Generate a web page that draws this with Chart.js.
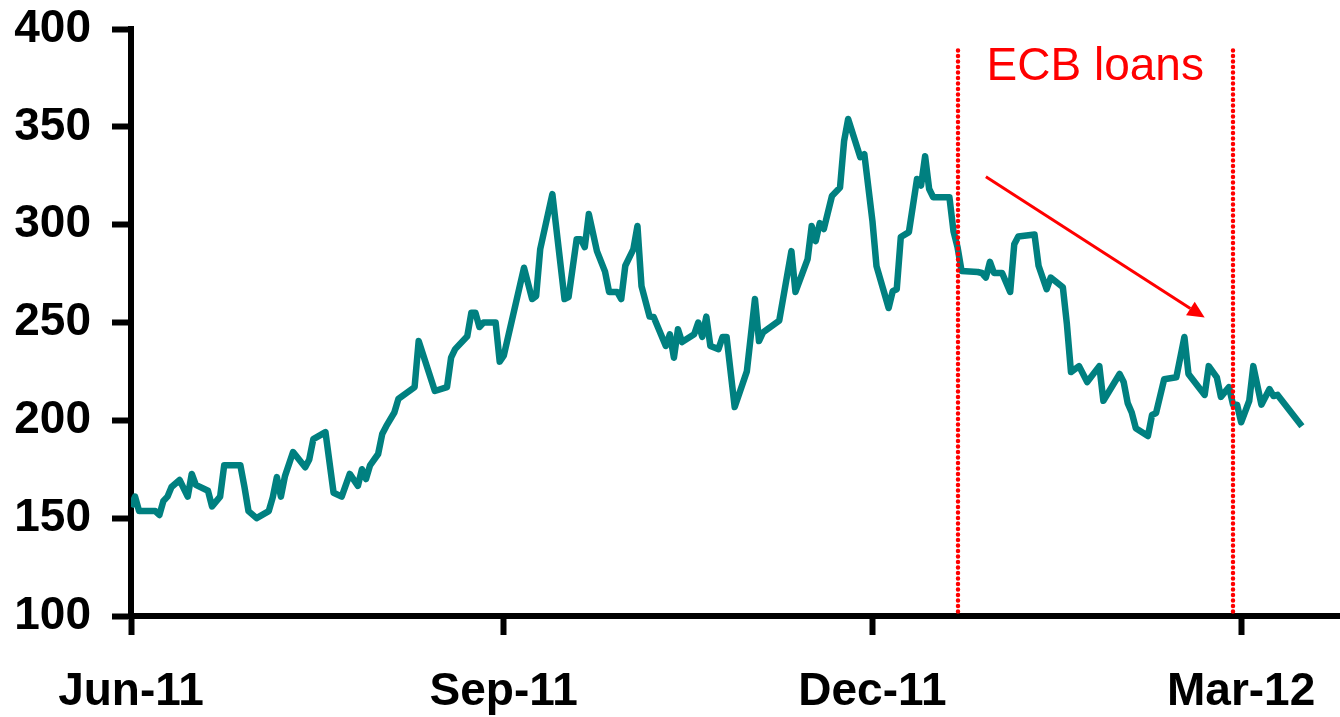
<!DOCTYPE html>
<html>
<head>
<meta charset="utf-8">
<script src="https://cdn.jsdelivr.net/npm/chart.js@4.4.1/dist/chart.umd.min.js"></script>
<style>
  html, body { margin: 0; padding: 0; background: #fff; }
  #wrap { width: 1340px; height: 717px; position: relative; }
</style>
</head>
<body>
<div id="wrap"><canvas id="myChart"></canvas></div>
<script>
const dates = [
  '2011-06-01', '2011-06-02', '2011-06-03', '2011-06-07', '2011-06-08', '2011-06-09', '2011-06-10', '2011-06-11',
  '2011-06-13', '2011-06-15', '2011-06-16', '2011-06-17', '2011-06-20', '2011-06-21', '2011-06-23', '2011-06-24',
  '2011-06-28', '2011-06-29', '2011-06-30', '2011-07-02', '2011-07-05', '2011-07-06', '2011-07-07', '2011-07-08',
  '2011-07-09', '2011-07-11', '2011-07-14', '2011-07-15', '2011-07-16', '2011-07-19', '2011-07-21', '2011-07-23',
  '2011-07-25', '2011-07-27', '2011-07-28', '2011-07-29', '2011-07-30', '2011-08-01', '2011-08-02', '2011-08-03',
  '2011-08-05', '2011-08-06', '2011-08-10', '2011-08-11', '2011-08-15', '2011-08-18', '2011-08-19', '2011-08-20',
  '2011-08-23', '2011-08-24', '2011-08-25', '2011-08-26', '2011-08-27', '2011-08-30', '2011-08-31', '2011-09-01',
  '2011-09-06', '2011-09-08', '2011-09-09', '2011-09-10', '2011-09-13', '2011-09-16', '2011-09-17', '2011-09-19',
  '2011-09-20', '2011-09-21', '2011-09-22', '2011-09-24', '2011-09-26', '2011-09-27', '2011-09-29', '2011-09-30',
  '2011-10-01', '2011-10-03', '2011-10-04', '2011-10-05', '2011-10-07', '2011-10-08', '2011-10-11', '2011-10-12',
  '2011-10-13', '2011-10-14', '2011-10-15', '2011-10-18', '2011-10-19', '2011-10-20', '2011-10-21', '2011-10-22',
  '2011-10-24', '2011-10-25', '2011-10-26', '2011-10-28', '2011-10-31', '2011-11-02', '2011-11-03', '2011-11-04',
  '2011-11-08', '2011-11-11', '2011-11-12', '2011-11-15', '2011-11-16', '2011-11-17', '2011-11-18', '2011-11-19',
  '2011-11-21', '2011-11-23', '2011-11-24', '2011-11-25', '2011-11-28', '2011-11-29', '2011-12-01', '2011-12-02',
  '2011-12-05', '2011-12-06', '2011-12-07', '2011-12-08', '2011-12-10', '2011-12-12', '2011-12-13', '2011-12-14',
  '2011-12-15', '2011-12-16', '2011-12-20', '2011-12-21', '2011-12-22', '2011-12-23', '2011-12-27', '2011-12-28',
  '2011-12-29', '2011-12-30', '2011-12-31', '2012-01-02', '2012-01-04', '2012-01-05', '2012-01-06', '2012-01-10',
  '2012-01-11', '2012-01-13', '2012-01-14', '2012-01-17', '2012-01-18', '2012-01-19', '2012-01-21', '2012-01-23',
  '2012-01-26', '2012-01-27', '2012-01-31', '2012-02-01', '2012-02-02', '2012-02-03', '2012-02-04', '2012-02-07',
  '2012-02-08', '2012-02-09', '2012-02-11', '2012-02-14', '2012-02-16', '2012-02-17', '2012-02-21', '2012-02-22',
  '2012-02-24', '2012-02-25', '2012-02-27', '2012-02-28', '2012-02-29', '2012-03-01', '2012-03-03', '2012-03-04',
  '2012-03-06', '2012-03-08', '2012-03-09', '2012-03-10', '2012-03-16'
];

const values = [
  155.7, 161, 153.6, 153.6, 151.6, 158.8, 161, 165.9,
  169.5, 161, 172.6, 167, 164, 156, 161, 177,
  177, 166, 153.6, 150, 153.6, 160.8, 171, 161,
  171.5, 183.8, 176, 180, 190.4, 194, 163, 161,
  172.6, 166.5, 175, 170, 177, 182.8, 193, 197,
  204, 211, 217, 240.5, 215, 217, 232, 236.4,
  243, 255, 255, 247.7, 250, 250, 230, 233,
  278, 262, 263.5, 287.5, 315.6, 262, 263, 292.6,
  292.6, 288.5, 305.4, 286.5, 276, 265.6, 265.6, 262,
  279, 287.5, 299.3, 268.6, 253, 252.8, 238, 244,
  232, 246.6, 240, 244, 250, 242.6, 253, 238,
  236.4, 242.6, 242.6, 206.8, 225, 262, 240.5, 245,
  251, 286.5, 265.6, 282.4, 299.3, 291.6, 300.8, 297.8,
  314.6, 319, 342.7, 354, 334.5, 336, 301.8, 278.8,
  257.4, 266, 267, 293.7, 296.2, 323.3, 320, 335,
  318.2, 314, 314, 296.7, 288.5, 276.3, 275.8, 275.3,
  273, 281, 275.3, 275.3, 265.6, 290, 294, 295,
  279, 267, 273, 268, 249, 224.7, 227.7, 219.6,
  227.7, 210, 223.7, 219.6, 208.8, 204, 196, 192,
  202.7, 203.7, 221, 222, 242.6, 223.7, 213, 227.7,
  222, 212, 217, 208, 208, 199, 210, 227.7,
  208, 216, 212.4, 213, 197
];

const tickDates = ['2011-06-01', '2011-09-01', '2011-12-01', '2012-03-01'];
const tickLabels = ['Jun-11', 'Sep-11', 'Dec-11', 'Mar-12'];
const loanDates = ['2011-12-22', '2012-02-28'];
const loanLabel = 'ECB loans';

// days since 1 Jun 2011
const origin = Date.UTC(2011, 5, 1);
function dayOf(s) {
  const p = s.split('-');
  return (Date.UTC(+p[0], +p[1] - 1, +p[2]) - origin) / 86400000;
}

const font = 'Arial, "Liberation Sans", sans-serif';

// dotted marker lines, label and trend arrow
const annotations = {
  id: 'annotations',
  afterDatasetsDraw(chart) {
    const { ctx, scales: { x, y } } = chart;
    ctx.save();

    ctx.strokeStyle = '#ff0000';
    ctx.lineWidth = 4.5;
    ctx.lineCap = 'round';
    ctx.setLineDash([0, 5.5]);
    loanDates.forEach(d => {
      const px = Math.round(x.getPixelForValue(dayOf(d)));
      ctx.beginPath();
      ctx.moveTo(px, y.getPixelForValue(389));
      ctx.lineTo(px, y.getPixelForValue(100) - 3);
      ctx.stroke();
    });
    ctx.setLineDash([]);

    const xa = x.getPixelForValue(dayOf(loanDates[0]));
    const xb = x.getPixelForValue(dayOf(loanDates[1]));
    ctx.fillStyle = '#ff0000';
    ctx.font = '46px ' + font;
    ctx.textAlign = 'center';
    ctx.textBaseline = 'middle';
    ctx.fillText(loanLabel, (xa + xb) / 2, y.getPixelForValue(380.5));

    const x1 = x.getPixelForValue(dayOf('2011-12-29')), y1 = y.getPixelForValue(324.5);
    const x2 = x.getPixelForValue(dayOf('2012-02-21')), y2 = y.getPixelForValue(252.5);
    const ang = Math.atan2(y2 - y1, x2 - x1);
    const head = 17, half = 8;
    const bx = x2 - head * Math.cos(ang), by = y2 - head * Math.sin(ang);
    ctx.lineWidth = 3;
    ctx.lineCap = 'butt';
    ctx.beginPath();
    ctx.moveTo(x1, y1);
    ctx.lineTo(bx, by);
    ctx.stroke();
    ctx.beginPath();
    ctx.moveTo(x2, y2);
    ctx.lineTo(bx + half * Math.sin(ang), by - half * Math.cos(ang));
    ctx.lineTo(bx - half * Math.sin(ang), by + half * Math.cos(ang));
    ctx.closePath();
    ctx.fill();

    ctx.restore();
  }
};

// fixed axis sizes, no extra room reserved for overhanging labels
function fixX(s) {
  s.height = 101;
  s.paddingLeft = s.paddingRight = s.paddingTop = s.paddingBottom = 0;
}
function fixY(s) {
  s.width = 131;
  s.paddingLeft = s.paddingRight = s.paddingTop = s.paddingBottom = 0;
}

new Chart(document.getElementById('myChart'), {
  type: 'line',
  data: {
    datasets: [{
      data: dates.map((d, i) => ({ x: dayOf(d), y: values[i] })),
      borderColor: '#008080',
      borderWidth: 6.5,
      borderJoinStyle: 'round',
      pointRadius: 0,
      tension: 0,
      fill: false
    }]
  },
  options: {
    responsive: true,
    maintainAspectRatio: false,
    animation: false,
    layout: { padding: { top: 29, right: 0, bottom: 0, left: 0 } },
    plugins: {
      legend: { display: false },
      tooltip: { enabled: false }
    },
    scales: {
      x: {
        type: 'linear',
        min: 0,
        max: 298.4,
        afterBuildTicks: s => { s.ticks = tickDates.map(d => ({ value: dayOf(d) })); },
        afterFit: fixX,
        ticks: {
          callback: (v, i) => tickLabels[i],
          font: { family: font, size: 46, weight: 'bold' },
          color: '#000',
          padding: 30,
          maxRotation: 0,
          autoSkip: false
        },
        grid: { drawOnChartArea: false, tickLength: 19, tickWidth: 6, tickColor: '#000' },
        border: { color: '#000', width: 6 }
      },
      y: {
        min: 100,
        max: 400,
        afterFit: fixY,
        ticks: {
          stepSize: 50,
          font: { family: font, size: 46, weight: 'bold' },
          color: '#000',
          padding: 21
        },
        grid: { drawOnChartArea: false, tickLength: 19, tickWidth: 6, tickColor: '#000' },
        border: { color: '#000', width: 6 }
      }
    }
  },
  plugins: [annotations]
});
</script>
</body>
</html>
